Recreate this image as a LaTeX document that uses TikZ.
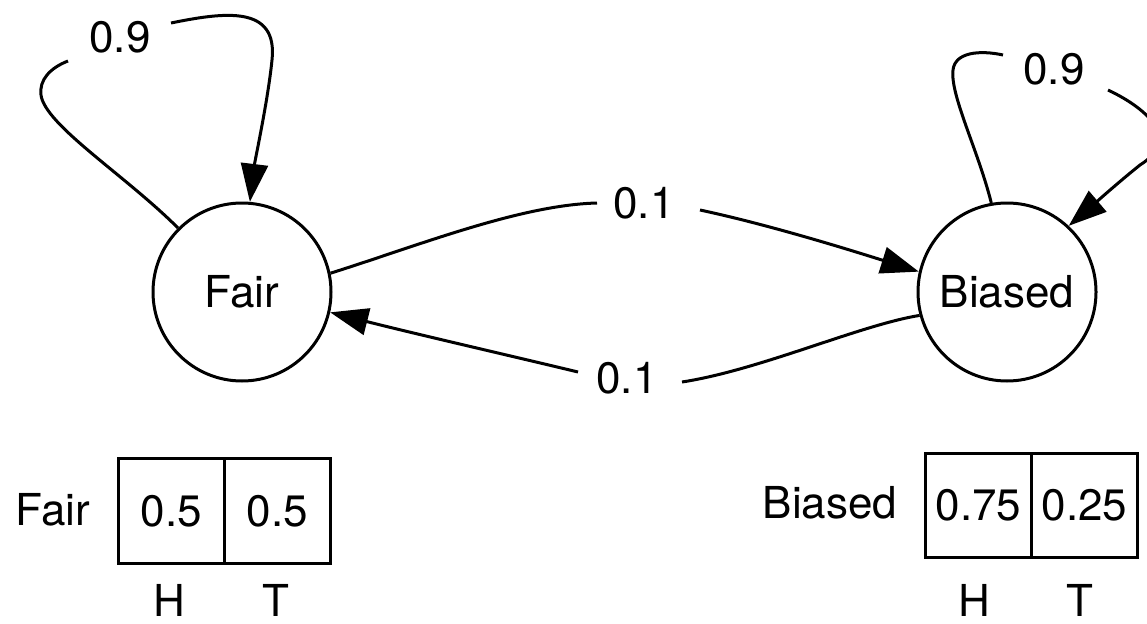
\documentclass[tikz,border=0pt]{standalone}
\usepackage{fontspec}
\setmainfont{TeX Gyre Heros}
\usetikzlibrary{arrows.meta}
\begin{document}
\begin{tikzpicture}[x=1pt,y=-1pt,
  every node/.style={font=\fontsize{44}{53}\selectfont},
  state/.style={draw,circle,minimum size=178pt,inner sep=0pt,line width=3pt},
  cell/.style={draw,rectangle,minimum width=106pt,minimum height=105pt,inner sep=0pt,line width=3pt},
  edge/.style={line width=3pt},
  arr/.style={edge,-{Triangle[length=38pt,width=27pt]}},
  lbl/.style={inner sep=0pt}
]
\useasboundingbox (0,0) rectangle (1147,623);

% states
\node[state] (Fair) at (242,292) {Fair};
\node[state] (Biased) at (1007,292) {Biased};

% labels
\node[lbl] (l1) at (120,37) {0.9};
\node[lbl] (l2) at (1054,69) {0.9};
\node[lbl] (l3) at (644,203) {0.1};
\node[lbl] (l4) at (627,378) {0.1};

% gap end points
\coordinate (l1a) at (68,61);
\coordinate (l1b) at (171,23);
\coordinate (l2a) at (1003,55);
\coordinate (l2b) at (1108,90);
\coordinate (l3a) at (597,203);
\coordinate (l3b) at (700,210);
\coordinate (l4a) at (682,382);
\coordinate (l4b) at (578,372);

% Fair self loop
\draw[edge] (Fair.135) .. controls (125,175) and (45,125) .. (41,95)
  .. controls (39,80) and (50,68) .. (l1a);
\draw[arr] (l1b) .. controls (225,12) and (278,5) .. (272,60)
  .. controls (268,100) and (255,160) .. (Fair.85);

% Biased self loop
\draw[edge] (Biased.100) .. controls (978,150) and (950,95) .. (953,70)
  .. controls (955,52) and (980,50) .. (l2a);
\draw[arr] (l2b) .. controls (1150,110) and (1180,140) .. (1140,165)
  .. controls (1115,185) and (1085,212) .. (Biased.47);

% Fair -> Biased
\draw[edge] (Fair.12) .. controls (420,245) and (520,205) .. (l3a);
\draw[arr] (l3b) .. controls (770,225) and (850,250) .. (Biased.167);

% Biased -> Fair
\draw[edge] (Biased.195) .. controls (860,325) and (760,370) .. (l4a);
\draw[arr] (l4b) .. controls (520,358) and (420,335) .. (Fair.-13);

% emission tables
\node[lbl] (fl) at (53,510) {Fair};
\node[cell] (fh) at (171.5,511) {0.5};
\node[cell] (ft) at (277.5,511) {0.5};
\node[lbl] (fH) at (169,600) {H};
\node[lbl] (fT) at (276,600) {T};

\node[lbl] (bl) at (830,503) {Biased};
\node[cell,minimum height=104pt] (bh) at (978.5,505.5) {0.75};
\node[cell,minimum height=104pt] (bt) at (1084.5,505.5) {0.25};
\node[lbl] (bH) at (974,600) {H};
\node[lbl] (bT) at (1080,600) {T};
\end{tikzpicture}
\end{document}
